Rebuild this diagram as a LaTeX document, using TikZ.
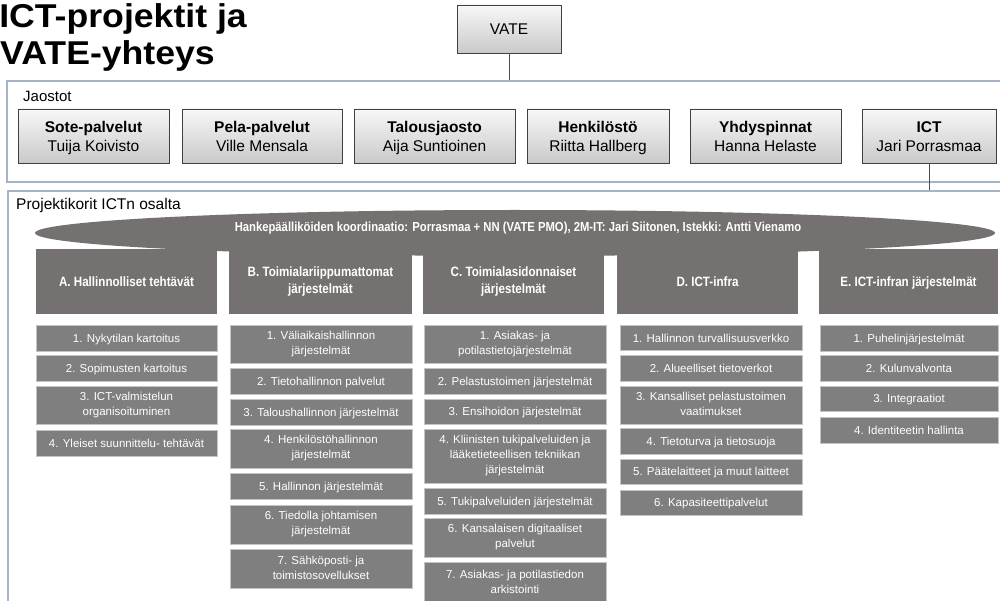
\documentclass[tikz,border=0pt]{standalone}
\usepackage{fontspec}
\setmainfont{Liberation Sans}
\newfontfamily\narrowfont[FakeStretch=0.86]{Liberation Sans}
\usetikzlibrary{shapes.geometric,shadows}
\definecolor{hdr}{HTML}{767171}
\definecolor{itemc}{HTML}{7F7F7F}
\definecolor{itemb}{HTML}{C4C4C4}
\definecolor{framec}{HTML}{A5B4C6}
\newcommand\mybox[7]{\node[#1, minimum width={(#4-#2)*1pt}, minimum height={(#5-#3)*1pt}] (#6) at ({(#2+#4)/2},{(#3+#5)/2}) {#7};}
\newcommand\deptlines[2]{\rule{0pt}{15pt}\textbf{#1}\\#2\rule[-2pt]{0pt}{2pt}}
\begin{document}
\begin{tikzpicture}[x=1pt,y=-1pt,
  frame/.style={draw=framec, line width=1.3pt, rectangle, inner sep=0},
  dept/.style={draw=black!75, line width=0.9pt, top color=gray!6, bottom color=gray!42, align=center,
    font=\fontsize{15.5}{19}\selectfont, inner sep=0,
    drop shadow={shadow xshift=1pt, shadow yshift=-1.5pt, opacity=0.3}},
  hdrbox/.style={fill=hdr, inner sep=0, text=white, font=\narrowfont\fontsize{13.5}{16.5}\selectfont\bfseries, align=center,
    execute at begin node={\rule{0pt}{12.4pt}}, execute at end node={\rule[-2pt]{0pt}{2pt}}},
  item/.style={fill=itemc, draw=itemb, line width=0.8pt, inner sep=0, text=white, font=\fontsize{11.5}{15}\selectfont, align=center,
    execute at begin node={\rule{0pt}{11pt}}, execute at end node={\rule[-2pt]{0pt}{2pt}}},
  conn/.style={draw=black!70, line width=0.9pt},
  titletext/.style={anchor=base east, inner sep=0, font=\fontsize{33}{40}\selectfont\bfseries},
  lab/.style={anchor=base west, inner sep=0}]
\useasboundingbox (0,0) rectangle (1000,601);
\clip (0,0) rectangle (1000,601);
\fill[white] (0,0) rectangle (1000,601);
% title
\node[titletext] (t1) at (247,28) {\scalebox{1.08}[1]{ICT-projektit ja}};
\node[titletext] (t2) at (215,65) {\scalebox{1.08}[1]{VATE-yhteys}};
% frames
\mybox{frame}{7}{81}{1015}{182}{jframe}{}
\mybox{frame}{8}{191}{1015}{640}{pframe}{}
\node[lab, font=\fontsize{15}{18}\selectfont] (jlab) at (23,102) {Jaostot};
\node[lab, font=\fontsize{15.5}{18}\selectfont] (plab) at (16,210) {Projektikorit ICTn osalta};
% VATE
\mybox{dept}{457}{5}{561}{53}{vate}{VATE}
\draw[conn] (vate.south) -- (vate.south |- jframe.north);
% departments
\mybox{dept}{18}{109}{169}{163}{sote}{\deptlines{Sote-palvelut}{Tuija Koivisto}}
\mybox{dept}{182}{109}{342}{163}{pela}{\deptlines{Pela-palvelut}{Ville Mensala}}
\mybox{dept}{354}{109}{515}{163}{talous}{\deptlines{Talousjaosto}{Aija Suntioinen}}
\mybox{dept}{527}{109}{669}{163}{henk}{\deptlines{Henkilöstö}{Riitta Hallberg}}
\mybox{dept}{690}{109}{841}{163}{yhdys}{\deptlines{Yhdyspinnat}{Hanna Helaste}}
\mybox{dept}{862}{109}{996}{163}{ict}{\deptlines{ICT}{Jari Porrasmaa}}
\draw[conn] (ict.south) -- (ict.south |- pframe.north);
% column headers
\mybox{hdrbox}{36}{249}{217}{314}{ha}{A. Hallinnolliset tehtävät}
\mybox{hdrbox}{229}{249}{412}{314}{hb}{B. Toimialariippumattomat\\järjestelmät}
\mybox{hdrbox}{423}{249}{604}{314}{hc}{C. Toimialasidonnaiset\\järjestelmät}
\mybox{hdrbox}{617}{249}{798}{314}{hd}{D. ICT-infra}
\mybox{hdrbox}{819}{249}{998}{314}{he}{E. ICT-infran järjestelmät}
% coordination ellipse
\node[ellipse, fill=hdr, minimum width=960pt, minimum height=46pt, inner sep=0] (coord) at (515,233) {};
\node[anchor=base, inner sep=0, text=white, font=\narrowfont\fontsize{13.1}{15}\selectfont\bfseries] (coordtext) at (518,232) {Hankepäälliköiden koordinaatio: Porrasmaa + NN (VATE PMO), 2M-IT: Jari Siitonen, Istekki: Antti Vienamo};
% column A
\mybox{item}{36}{325}{217}{351}{a1}{1. Nykytilan kartoitus}
\mybox{item}{36}{355}{217}{381}{a2}{2. Sopimusten kartoitus}
\mybox{item}{36}{386}{217}{424}{a3}{3. ICT-valmistelun\\organisoituminen}
\mybox{item}{36}{430}{217}{456}{a4}{4. Yleiset suunnittelu- tehtävät}
% column B
\mybox{item}{230}{325}{412}{363}{b1}{1. Väliaikaishallinnon\\järjestelmät}
\mybox{item}{230}{368}{412}{394}{b2}{2. Tietohallinnon palvelut}
\mybox{item}{230}{399}{412}{425}{b3}{3. Taloushallinnon järjestelmät}
\mybox{item}{230}{429}{412}{468}{b4}{4. Henkilöstöhallinnon\\järjestelmät}
\mybox{item}{230}{473}{412}{499}{b5}{5. Hallinnon järjestelmät}
\mybox{item}{230}{505}{412}{544}{b6}{6. Tiedolla johtamisen\\järjestelmät}
\mybox{item}{230}{549}{412}{588}{b7}{7. Sähköposti- ja\\toimistosovellukset}
% column C
\mybox{item}{424}{325}{606}{363}{c1}{1. Asiakas- ja\\potilastietojärjestelmät}
\mybox{item}{424}{368}{606}{394}{c2}{2. Pelastustoimen järjestelmät}
\mybox{item}{424}{399}{606}{424}{c3}{3. Ensihoidon järjestelmät}
\mybox{item}{424}{429}{606}{483}{c4}{4. Kliinisten tukipalveluiden ja\\lääketieteellisen tekniikan\\järjestelmät}
\mybox{item}{424}{488}{606}{514}{c5}{5. Tukipalveluiden järjestelmät}
\mybox{item}{424}{518}{606}{557}{c6}{6. Kansalaisen digitaaliset\\palvelut}
\mybox{item}{424}{562}{606}{604}{c7}{7. Asiakas- ja potilastiedon\\arkistointi}
% column D
\mybox{item}{620}{325}{802}{350}{d1}{1. Hallinnon turvallisuusverkko}
\mybox{item}{620}{355}{802}{381}{d2}{2. Alueelliset tietoverkot}
\mybox{item}{620}{386}{802}{424}{d3}{3. Kansalliset pelastustoimen\\vaatimukset}
\mybox{item}{620}{428}{802}{454}{d4}{4. Tietoturva ja tietosuoja}
\mybox{item}{620}{459}{802}{484}{d5}{5. Päätelaitteet ja muut laitteet}
\mybox{item}{620}{490}{802}{515}{d6}{6. Kapasiteettipalvelut}
% column E
\mybox{item}{820}{325}{998}{351}{e1}{1. Puhelinjärjestelmät}
\mybox{item}{820}{355}{998}{381}{e2}{2. Kulunvalvonta}
\mybox{item}{820}{386}{998}{411}{e3}{3. Integraatiot}
\mybox{item}{820}{417}{998}{443}{e4}{4. Identiteetin hallinta}
\end{tikzpicture}
\end{document}
